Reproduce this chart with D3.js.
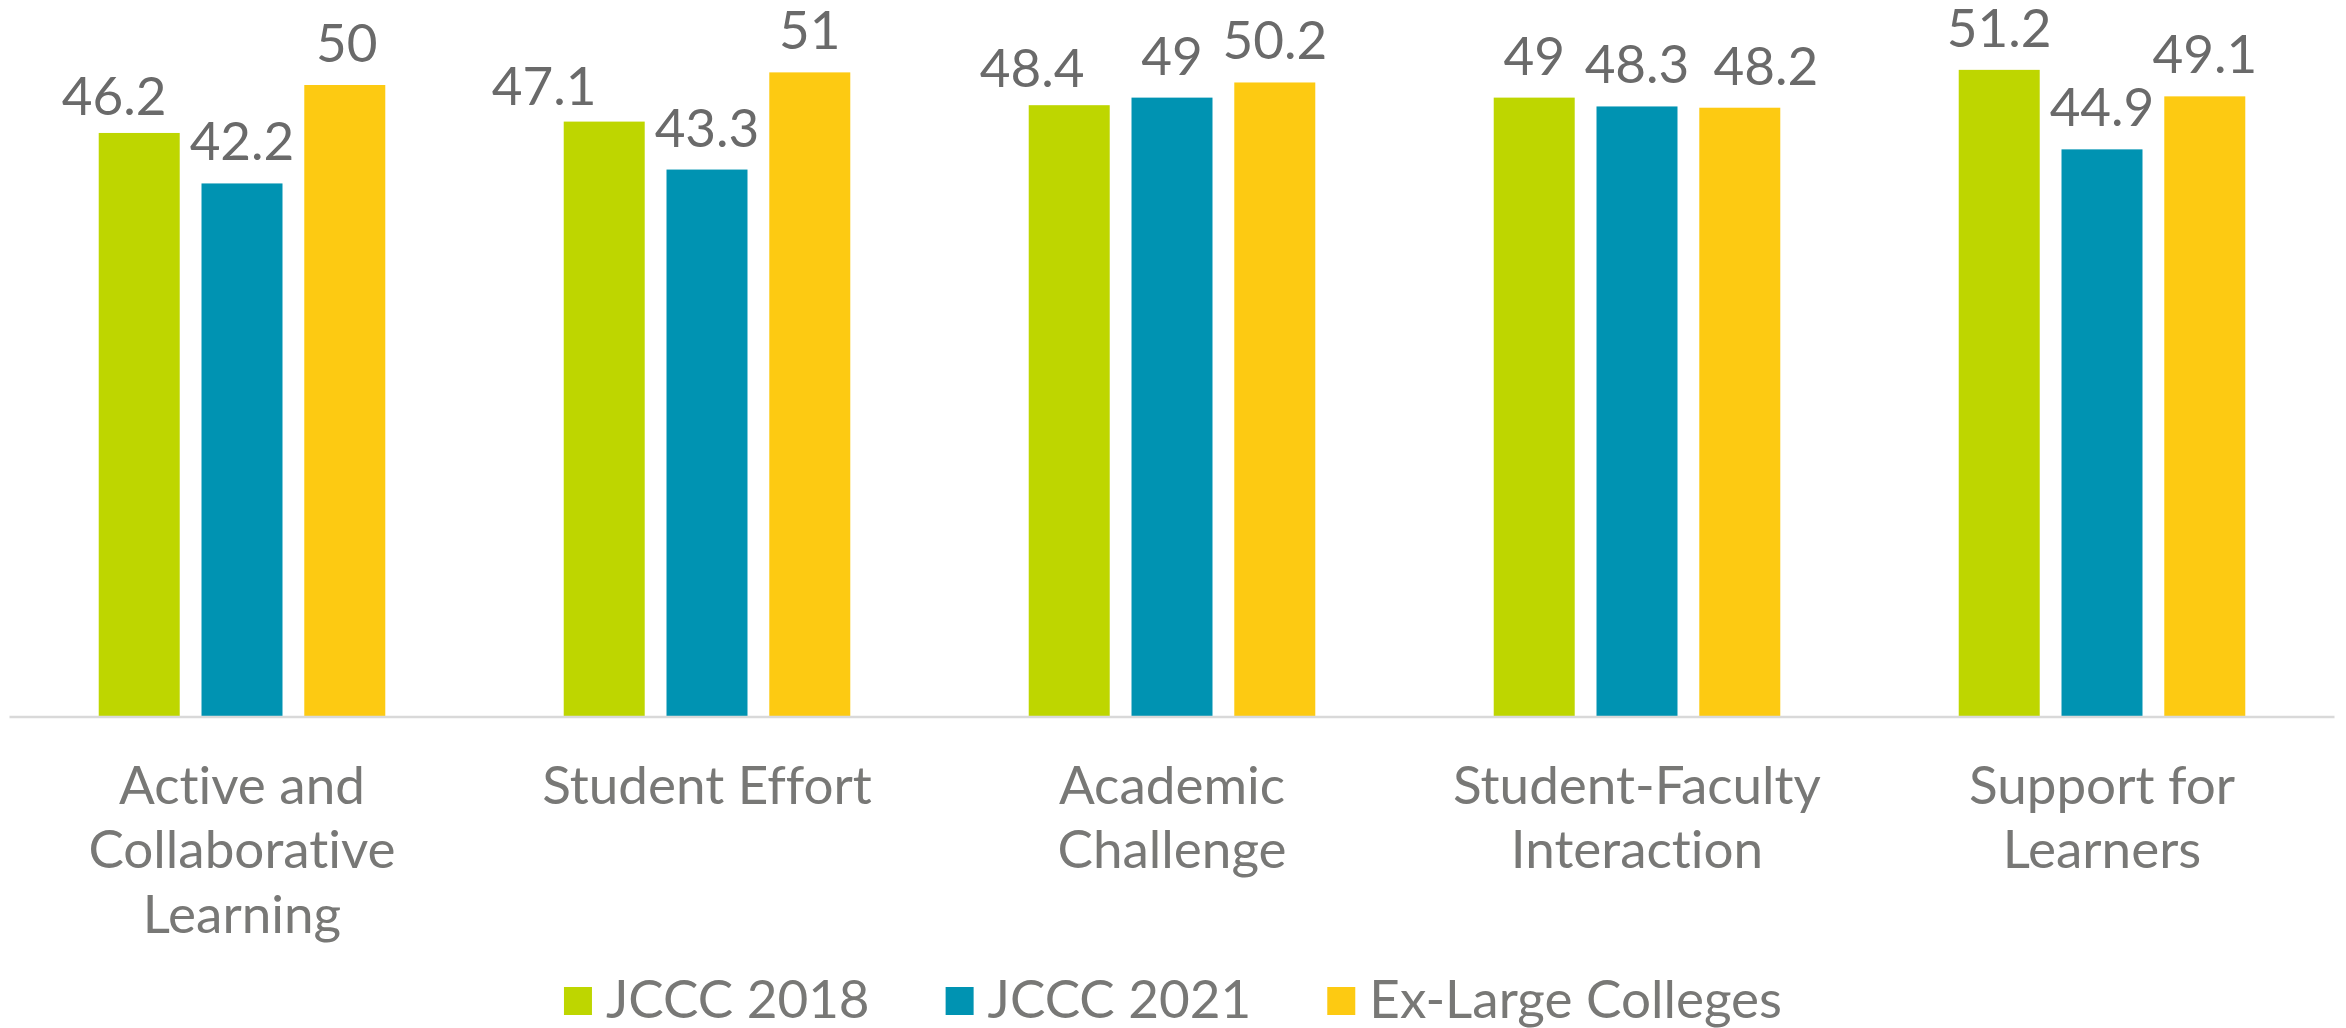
<!DOCTYPE html>
<html>
<head>
<meta charset="utf-8">
<script src="https://cdn.jsdelivr.net/npm/d3@7"></script>
<style>
  html, body { margin: 0; padding: 0; background: #ffffff; }
  svg { display: block; }
  text { font-variant-ligatures: none; font-feature-settings: "liga" 0, "clig" 0; }
</style>
</head>
<body>
<svg id="chart" width="2346" height="1028"></svg>
<script>
// Benchmark categories (wrapped onto lines as shown under the axis)
const categories = [
  "Active and Collaborative Learning",
  "Student Effort",
  "Academic Challenge",
  "Student-Faculty Interaction",
  "Support for Learners"
];
const categoryLines = [
  ["Active and", "Collaborative", "Learning"],
  ["Student Effort"],
  ["Academic", "Challenge"],
  ["Student-Faculty", "Interaction"],
  ["Support for", "Learners"]
];

// Series
const seriesNames = ["JCCC 2018", "JCCC 2021", "Ex-Large Colleges"];
const jccc2018 = [46.2, 47.1, 48.4, 49, 51.2];
const jccc2021 = [42.2, 43.3, 49, 48.3, 44.9];
const exLarge  = [50, 51, 50.2, 48.2, 49.1];
const seriesValues = [jccc2018, jccc2021, exLarge];

const colors = ["#BED600", "#0093B2", "#FDCA12"];

// Hand-placed label nudges (px), per series and category
const labelNudgeX = [[-25, -60, -37, 0, 0], [0, 0, 0, 0, 0], [2, 0, 0, 26, 0]];
const labelNudgeY = [[5, 6, 5, 0, 0], [0, 0, 0, 0, 0], [0, 0, 0, 0, 0]];

const svg = d3.select("#chart");
const fontFamily = "Lato, 'Open Sans', sans-serif";
const textGray = "#787876";
const valueGray = "#6A6A6A";

const plotLeft = 9.5, plotRight = 2334.5;
const baseline = 716;

const x0 = d3.scaleBand()
  .domain(categories)
  .range([plotLeft, plotRight])
  .paddingInner(0)
  .paddingOuter(0);

const x1 = d3.scaleBand()
  .domain(seriesNames)
  .range([0, x0.bandwidth()])
  .paddingInner(0.212)
  .paddingOuter(0.868);

const y = d3.scaleLinear()
  .domain([0, 50])
  .range([baseline, 85]);

// Bars
const groups = svg.append("g").selectAll("g")
  .data(categories)
  .join("g")
  .attr("transform", d => `translate(${x0(d)},0)`);

const cells = (c, ci) => seriesNames.map((s, si) => ({ s, si, ci, v: seriesValues[si][ci] }));

groups.selectAll("rect")
  .data(cells)
  .join("rect")
  .attr("x", d => x1(d.s))
  .attr("y", d => y(d.v))
  .attr("width", x1.bandwidth())
  .attr("height", d => baseline - y(d.v))
  .attr("fill", d => colors[d.si]);

// Value labels
groups.selectAll("text.value")
  .data(cells)
  .join("text")
  .attr("class", "value")
  .attr("x", d => x1(d.s) + x1.bandwidth() / 2 + labelNudgeX[d.si][d.ci])
  .attr("y", d => y(d.v) - 23 + labelNudgeY[d.si][d.ci])
  .attr("text-anchor", "middle")
  .attr("font-family", fontFamily)
  .attr("font-size", 53)
  .attr("fill", valueGray)
  .text(d => d.v);

// Category axis line
svg.append("line")
  .attr("x1", plotLeft)
  .attr("x2", plotRight)
  .attr("y1", baseline + 1)
  .attr("y2", baseline + 1)
  .attr("stroke", "#D9D9D9")
  .attr("stroke-width", 2.5);

// Category labels
const catLabels = svg.append("g").selectAll("text")
  .data(categories)
  .join("text")
  .attr("text-anchor", "middle")
  .attr("font-family", fontFamily)
  .attr("font-size", 53)
  .attr("fill", textGray)
  .attr("x", d => x0(d) + x0.bandwidth() / 2)
  .attr("y", 804);

catLabels.selectAll("tspan")
  .data((d, i) => categoryLines[i])
  .join("tspan")
  .attr("x", function () { return d3.select(this.parentNode).attr("x"); })
  .attr("dy", (d, i) => i === 0 ? 0 : 64.3)
  .text(d => d);

// Legend, centered under the plot
const legend = svg.append("g");
const items = legend.selectAll("g")
  .data(seriesNames)
  .join("g");

items.append("rect")
  .attr("width", 28)
  .attr("height", 28)
  .attr("y", 987)
  .attr("fill", (d, i) => colors[i]);

items.append("text")
  .attr("x", 42)
  .attr("y", 1018)
  .attr("font-family", fontFamily)
  .attr("font-size", 53)
  .attr("fill", textGray)
  .text(d => d);

let cursor = 0;
const offsets = [];
items.each(function () {
  const w = this.getBBox().width;
  offsets.push(cursor);
  cursor += w + 76;
});
const totalW = cursor - 76;
const startX = (2346 - totalW) / 2;
items.attr("transform", (d, i) => `translate(${startX + offsets[i]},0)`);
</script>
</body>
</html>
